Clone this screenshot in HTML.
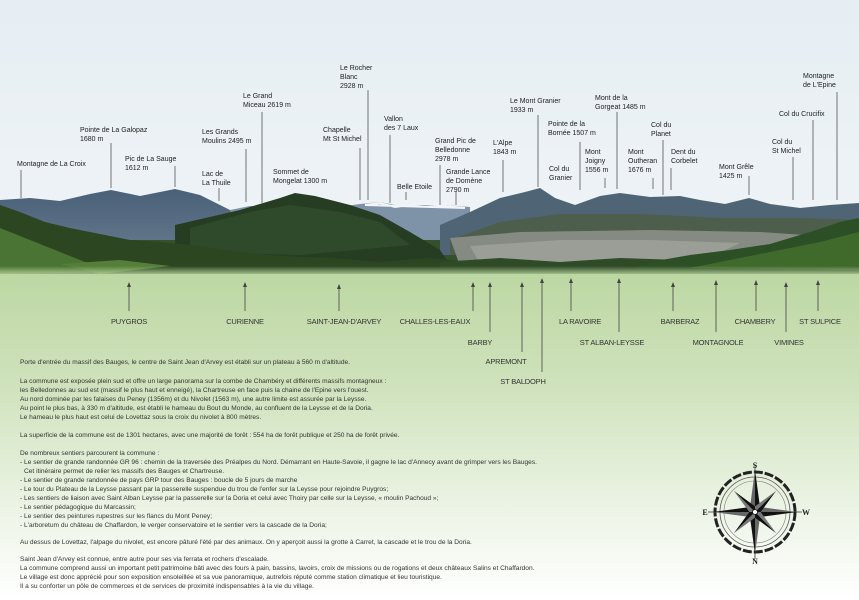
<!DOCTYPE html>
<html><head><meta charset="utf-8"><style>
html,body{margin:0;padding:0;width:859px;height:600px;overflow:hidden;background:#fff}
svg{display:block}
.m{font-family:"Liberation Sans",sans-serif;font-size:7px;fill:#222}
.t{font-family:"Liberation Sans",sans-serif;font-size:7.5px;fill:#333;text-anchor:middle;letter-spacing:-0.2px}
.b{font-family:"Liberation Sans",sans-serif;font-size:6.6px;fill:#333}
</style></head><body>
<svg width="859" height="600" viewBox="0 0 859 600" xmlns="http://www.w3.org/2000/svg">
<defs>
<linearGradient id="sky" x1="0" y1="0" x2="0" y2="1">
<stop offset="0" stop-color="#e6eef3"/><stop offset="1" stop-color="#eef3f6"/></linearGradient>
<linearGradient id="gr" x1="0" y1="0" x2="0" y2="1">
<stop offset="0" stop-color="#bcd7a2"/><stop offset="0.35" stop-color="#cfe2bc"/><stop offset="0.75" stop-color="#eef5e8"/><stop offset="1" stop-color="#ffffff"/></linearGradient>
<linearGradient id="far" x1="0" y1="0" x2="0" y2="1">
<stop offset="0" stop-color="#4a6078"/><stop offset="1" stop-color="#5f7488"/></linearGradient>
<linearGradient id="fade" x1="0" y1="0" x2="0" y2="1">
<stop offset="0" stop-color="#bcd7a2" stop-opacity="0"/><stop offset="1" stop-color="#bcd7a2" stop-opacity="1"/></linearGradient>
</defs>
<rect width="859" height="215" fill="url(#sky)"/>
<rect y="268" width="859" height="332" fill="url(#gr)"/>
<!-- base -->
<rect y="212" width="859" height="62" fill="#34502c"/>
<!-- far snowy mountains -->
<polygon points="230,210 250,206 300,205 330,208 360,204 380,202 400,206 430,204 470,207 470,240 230,240" fill="#7f93a8"/>
<polygon points="365,205 380,203 395,207 410,205 425,204 445,206 465,208" fill="none" stroke="#f2f4f7" stroke-width="2"/>
<!-- left ridge -->
<polygon points="0,200 30,198 60,201 90,194 111,190 140,196 175,189 200,195 230,210 240,240 0,240" fill="url(#far)"/>
<!-- chartreuse -->
<polygon points="440,225 470,212 500,198 525,192 540,188 555,198 575,205 600,196 620,193 650,197 680,196 700,200 725,204 749,198 770,204 800,208 830,205 859,203 859,255 440,255" fill="#4f6474"/>
<polygon points="450,240 500,222 560,214 640,214 720,218 800,218 859,220 859,255 450,255" fill="#4d5e4c"/>
<!-- city -->
<polygon points="450,238 520,232 650,230 760,232 820,236 800,262 640,266 460,266" fill="#858b82"/>
<polygon points="470,246 560,240 650,240 740,243 700,262 480,264" fill="#9a9e96"/>
<!-- mongelat dark hill -->
<polygon points="175,225 240,210 280,198 295,193 315,196 350,205 380,215 410,232 440,250 455,272 175,272" fill="#263d24"/>
<polygon points="190,228 250,212 290,205 340,212 380,222 410,245 300,255 190,252" fill="#2f4a2b"/>
<!-- left foreground -->
<polygon points="0,205 20,212 45,222 70,228 100,234 130,240 160,242 200,246 240,252 280,256 330,258 380,262 430,258 470,262 470,274 0,274" fill="#2c4622"/>
<polygon points="0,228 30,240 60,252 90,264 110,272 0,274" fill="#4a7433"/>
<polygon points="60,264 120,260 170,266 100,274" fill="#557f38"/>
<!-- valley bottom forest -->
<polygon points="440,262 500,258 560,262 620,258 680,260 700,274 440,274" fill="#2e4a26"/>
<!-- right foreground -->
<polygon points="620,274 650,262 690,255 730,250 770,244 810,232 840,222 859,218 859,274" fill="#2d4f25"/>
<polygon points="690,268 760,254 820,242 859,232 859,270" fill="#3f6a2c"/>
<rect y="266" width="859" height="10" fill="url(#fade)"/>

<!-- mountain labels & lines -->
<g stroke="#555" stroke-width="0.8">
<line x1="21" y1="170" x2="21" y2="198"/>
<line x1="111" y1="143" x2="111" y2="188"/>
<line x1="175" y1="166" x2="175" y2="187"/>
<line x1="246" y1="149" x2="246" y2="202"/>
<line x1="219" y1="188" x2="219" y2="201"/>
<line x1="262" y1="112" x2="262" y2="203"/>
<line x1="360" y1="148" x2="360" y2="200"/>
<line x1="368" y1="90" x2="368" y2="200"/>
<line x1="390" y1="135" x2="390" y2="203"/>
<line x1="406" y1="192" x2="406" y2="200"/>
<line x1="440" y1="165" x2="440" y2="205"/>
<line x1="456" y1="192" x2="456" y2="205"/>
<line x1="503" y1="160" x2="503" y2="192"/>
<line x1="538" y1="115" x2="538" y2="187"/>
<line x1="580" y1="142" x2="580" y2="190"/>
<line x1="605" y1="178" x2="605" y2="188"/>
<line x1="617" y1="112" x2="617" y2="189"/>
<line x1="653" y1="178" x2="653" y2="189"/>
<line x1="663" y1="140" x2="663" y2="195"/>
<line x1="671" y1="168" x2="671" y2="190"/>
<line x1="749" y1="176" x2="749" y2="195"/>
<line x1="793" y1="157" x2="793" y2="200"/>
<line x1="813" y1="120" x2="813" y2="200"/>
<line x1="837" y1="92" x2="837" y2="200"/>
</g>
<g class="m">
<text x="17" y="166">Montagne de La Croix</text>
<text x="80" y="132">Pointe de La Galopaz</text><text x="80" y="141">1680 m</text>
<text x="125" y="161">Pic de La Sauge</text><text x="125" y="170">1612 m</text>
<text x="202" y="134">Les Grands</text><text x="202" y="143">Moulins 2495 m</text>
<text x="202" y="176">Lac de</text><text x="202" y="185">La Thuile</text>
<text x="243" y="98">Le Grand</text><text x="243" y="107">Miceau 2619 m</text>
<text x="273" y="174">Sommet de</text><text x="273" y="183">Mongelat 1300 m</text>
<text x="323" y="132">Chapelle</text><text x="323" y="141">Mt St Michel</text>
<text x="340" y="70">Le Rocher</text><text x="340" y="79">Blanc</text><text x="340" y="88">2928 m</text>
<text x="384" y="121">Vallon</text><text x="384" y="130">des 7 Laux</text>
<text x="397" y="189">Belle Etoile</text>
<text x="435" y="143">Grand Pic de</text><text x="435" y="152">Belledonne</text><text x="435" y="161">2978 m</text>
<text x="446" y="174">Grande Lance</text><text x="446" y="183">de Domène</text><text x="446" y="192">2790 m</text>
<text x="493" y="145">L'Alpe</text><text x="493" y="154">1843 m</text>
<text x="510" y="103">Le Mont Granier</text><text x="510" y="112">1933 m</text>
<text x="548" y="126">Pointe de la</text><text x="548" y="135">Bornée 1507 m</text>
<text x="549" y="171">Col du</text><text x="549" y="180">Granier</text>
<text x="585" y="154">Mont</text><text x="585" y="163">Joigny</text><text x="585" y="172">1556 m</text>
<text x="595" y="100">Mont de la</text><text x="595" y="109">Gorgeat 1485 m</text>
<text x="628" y="154">Mont</text><text x="628" y="163">Outheran</text><text x="628" y="172">1676 m</text>
<text x="651" y="127">Col du</text><text x="651" y="136">Planet</text>
<text x="671" y="154">Dent du</text><text x="671" y="163">Corbelet</text>
<text x="719" y="169">Mont Grêle</text><text x="719" y="178">1425 m</text>
<text x="772" y="144">Col du</text><text x="772" y="153">St Michel</text>
<text x="779" y="116">Col du Crucifix</text>
<text x="803" y="78">Montagne</text><text x="803" y="87">de L'Epine</text>
</g>

<!-- town arrows -->
<g stroke="#444" stroke-width="0.8">
<line x1="129" y1="284" x2="129" y2="311"/>
<line x1="245" y1="284" x2="245" y2="311"/>
<line x1="339" y1="286" x2="339" y2="311"/>
<line x1="473" y1="284" x2="473" y2="311"/>
<line x1="490" y1="284" x2="490" y2="332"/>
<line x1="522" y1="284" x2="522" y2="352"/>
<line x1="542" y1="280" x2="542" y2="372"/>
<line x1="571" y1="280" x2="571" y2="311"/>
<line x1="619" y1="280" x2="619" y2="332"/>
<line x1="673" y1="284" x2="673" y2="311"/>
<line x1="716" y1="282" x2="716" y2="332"/>
<line x1="756" y1="282" x2="756" y2="311"/>
<line x1="786" y1="284" x2="786" y2="332"/>
<line x1="818" y1="282" x2="818" y2="311"/>
</g>
<g fill="#444">
<polygon points="127,287 131,287 129,282"/><polygon points="243,287 247,287 245,282"/><polygon points="337,289 341,289 339,284"/>
<polygon points="471,287 475,287 473,282"/><polygon points="488,287 492,287 490,282"/><polygon points="520,287 524,287 522,282"/>
<polygon points="540,283 544,283 542,278"/><polygon points="569,283 573,283 571,278"/><polygon points="617,283 621,283 619,278"/>
<polygon points="671,287 675,287 673,282"/><polygon points="714,285 718,285 716,280"/><polygon points="754,285 758,285 756,280"/>
<polygon points="784,287 788,287 786,282"/><polygon points="816,285 820,285 818,280"/>
</g>
<g class="t">
<text x="129" y="324">PUYGROS</text>
<text x="245" y="324">CURIENNE</text>
<text x="344" y="324">SAINT-JEAN-D'ARVEY</text>
<text x="435" y="324">CHALLES-LES-EAUX</text>
<text x="480" y="345">BARBY</text>
<text x="506" y="364">APREMONT</text>
<text x="523" y="384">ST BALDOPH</text>
<text x="580" y="324">LA RAVOIRE</text>
<text x="612" y="345">ST ALBAN-LEYSSE</text>
<text x="680" y="324">BARBERAZ</text>
<text x="718" y="345">MONTAGNOLE</text>
<text x="755" y="324">CHAMBERY</text>
<text x="789" y="345">VIMINES</text>
<text x="820" y="324">ST SULPICE</text>
</g>

<!-- body text -->
<g class="b">
<text x="20" y="364">Porte d'entrée du massif des Bauges, le centre de Saint Jean d'Arvey est établi sur un plateau à 560 m d'altitude.</text>
<text x="20" y="383">La commune est exposée plein sud et offre un large panorama sur la combe de Chambéry et différents massifs montagneux :</text>
<text x="20" y="392">les Belledonnes au sud est (massif le plus haut et enneigé), la Chartreuse en face puis la chaine de l'Epine vers l'ouest.</text>
<text x="20" y="401">Au nord dominée par les falaises du Peney (1356m) et du Nivolet (1563 m), une autre limite est assurée par la Leysse.</text>
<text x="20" y="410">Au point le plus bas, à 330 m d'altitude, est établi le hameau du Bout du Monde, au confluent de la Leysse et de la Doria.</text>
<text x="20" y="419">Le hameau le plus haut est celui de Lovettaz sous la croix du nivolet à 800 mètres.</text>
<text x="20" y="437">La superficie de la commune est de 1301 hectares, avec une majorité de forêt : 554 ha de forêt publique et 250 ha de forêt privée.</text>
<text x="20" y="455">De nombreux sentiers parcourent la commune :</text>
<text x="20" y="464">- Le sentier de grande randonnée GR 96 : chemin de la traversée des Préalpes du Nord. Démarrant en Haute-Savoie, il gagne le lac d'Annecy avant de grimper vers les Bauges.</text>
<text x="24" y="473">Cet itinéraire permet de relier les massifs des Bauges et Chartreuse.</text>
<text x="20" y="482">- Le sentier de grande randonnée de pays GRP tour des Bauges : boucle de 5 jours de marche</text>
<text x="20" y="491">- Le tour du Plateau de la Leysse passant par la passerelle suspendue du trou de l'enfer sur la Leysse pour rejoindre Puygros;</text>
<text x="20" y="500">- Les sentiers de liaison avec Saint Alban Leysse par la passerelle sur la Doria et celui avec Thoiry par celle sur la Leysse, « moulin Pachoud »;</text>
<text x="20" y="509">- Le sentier pédagogique du Marcassin;</text>
<text x="20" y="518">- Le sentier des peintures rupestres sur les flancs du Mont Peney;</text>
<text x="20" y="527">- L'arboretum du château de Chaffardon, le verger conservatoire et le sentier vers la cascade de la Doria;</text>
<text x="20" y="544">Au dessus de Lovettaz, l'alpage du nivolet, est encore pâturé  l'été par des animaux. On y aperçoit aussi la grotte à Carret, la cascade et le trou de la Doria.</text>
<text x="20" y="561">Saint Jean d'Arvey est connue, entre autre pour ses via ferrata et rochers d'escalade.</text>
<text x="20" y="570">La commune comprend aussi un important petit patrimoine bâti avec des fours à pain, bassins, lavoirs, croix de missions ou de rogations et deux châteaux Salins et Chaffardon.</text>
<text x="20" y="579">Le village est donc apprécié pour son exposition ensoleillée et sa vue panoramique, autrefois réputé comme station climatique et lieu touristique.</text>
<text x="20" y="588">Il a su conforter un pôle de commerces et de services de proximité indispensables à la vie du village.</text>
</g>

<!-- compass -->
<g transform="translate(755,512)">
<circle r="40" fill="none" stroke="#222" stroke-width="3" stroke-dasharray="9 2"/>
<circle r="35" fill="none" stroke="#555" stroke-width="0.8"/>
<circle r="31" fill="none" stroke="#777" stroke-width="0.6"/>
<line x1="-47" y1="0" x2="47" y2="0" stroke="#333" stroke-width="0.8"/>
<line x1="0" y1="-47" x2="0" y2="47" stroke="#333" stroke-width="0.8"/>
<g fill="#111">
<polygon points="0,-42 5,-5 0,0"/><polygon points="0,-42 -5,-5 0,0" fill="#666"/>
<polygon points="0,42 -5,5 0,0"/><polygon points="0,42 5,5 0,0" fill="#666"/>
<polygon points="42,0 5,5 0,0"/><polygon points="42,0 5,-5 0,0" fill="#666"/>
<polygon points="-42,0 -5,-5 0,0"/><polygon points="-42,0 -5,5 0,0" fill="#666"/>
<g transform="rotate(45)">
<polygon points="0,-30 4,-4 0,0"/><polygon points="0,-30 -4,-4 0,0" fill="#777"/>
<polygon points="0,30 -4,4 0,0"/><polygon points="0,30 4,4 0,0" fill="#777"/>
<polygon points="30,0 4,4 0,0"/><polygon points="30,0 4,-4 0,0" fill="#777"/>
<polygon points="-30,0 -4,-4 0,0"/><polygon points="-30,0 -4,4 0,0" fill="#777"/>
</g>
</g>
<circle r="2.5" fill="#fff" stroke="#111" stroke-width="0.8"/>
<g font-family="Liberation Serif,serif" font-size="8" font-weight="bold" fill="#222" text-anchor="middle">
<text x="0" y="-44">S</text><text x="0" y="52">N</text><text x="-50" y="3">E</text><text x="51" y="3">W</text>
</g>
</g>
</svg>
</body></html>
